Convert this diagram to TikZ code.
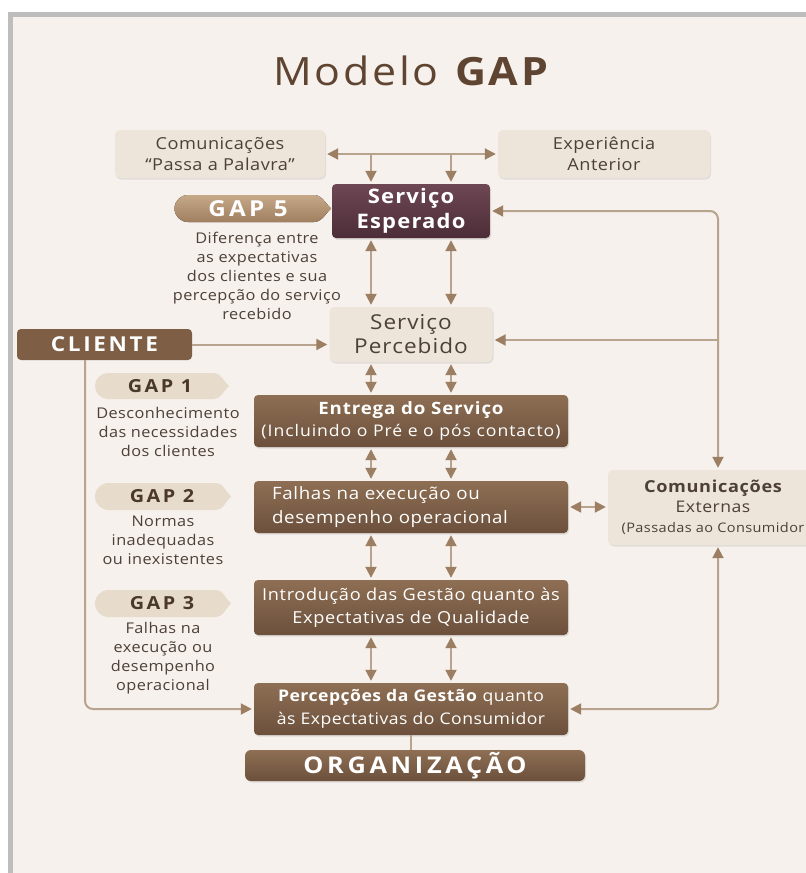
\documentclass[tikz,border=0pt]{standalone}
\usepackage{fontspec}
\setmainfont{Open Sans}[FakeStretch=1.1, LetterSpace=3]
\usetikzlibrary{arrows.meta,shadows,calc}
\definecolor{bg}{HTML}{F6F1EC}
\definecolor{frame}{HTML}{BDBDBD}
\definecolor{boxlight}{HTML}{EDE4DA}
\definecolor{brownT}{HTML}{8E6F54}
\definecolor{brownB}{HTML}{6C503C}
\definecolor{plumT}{HTML}{6E4754}
\definecolor{plumB}{HTML}{4C2D37}
\definecolor{clibrown}{HTML}{7E5E44}
\definecolor{pillT}{HTML}{C6A989}
\definecolor{pillB}{HTML}{9F7F60}
\definecolor{pilllight}{HTML}{E7DBCB}
\definecolor{linecol}{HTML}{B8A38D}
\definecolor{tipcol}{HTML}{9C7E63}
\definecolor{txt}{HTML}{4D4038}
\definecolor{titlecol}{HTML}{5E4431}
\definecolor{gaptxt}{HTML}{4A3828}
\newcommand{\LS}[1]{\addfontfeature{LetterSpace=#1}}
\begin{document}
\begin{tikzpicture}[x=1pt,y=-1pt,
  lightbox/.style={fill=boxlight, rounded corners=5pt, text=txt, align=center, inner sep=0pt,
    drop shadow={opacity=.18, shadow xshift=1pt, shadow yshift=-1.5pt}},
  brownbox/.style={top color=brownT, bottom color=brownB, rounded corners=4pt, text=white,
    align=center, inner sep=0pt, minimum width=314pt,
    drop shadow={opacity=.2, shadow xshift=1pt, shadow yshift=-1.5pt}},
  conn/.style={draw=linecol, line width=2pt, shorten <=2pt, shorten >=2pt},
  arr/.style={conn, -{Triangle[length=11pt,width=11pt,color=tipcol]}},
  dbl/.style={conn, {Triangle[length=11pt,width=11pt,color=tipcol]}-{Triangle[length=11pt,width=11pt,color=tipcol]}},
  plain/.style={draw=linecol, line width=2pt},
  desc/.style={text=txt, align=center, font=\fontsize{14.8}{19}\selectfont, inner sep=0pt},
  gapl/.style={text=gaptxt, font=\fontsize{18}{20}\selectfont\bfseries\LS{14}, inner sep=0pt},
]
\useasboundingbox (0,0) rectangle (806,873);
\clip (0,0) rectangle (806,873);
\fill[white] (0,0) rectangle (806,873);
\fill[frame] (8,12) rectangle (806,873);
\fill[bg] (13,17) rectangle (806,873);

% title
\node[text=titlecol, font=\fontsize{39}{40}\selectfont\LS{7}, inner sep=0pt] (title) at (412,71) {Modelo \textbf{GAP}};

% top boxes
\node[lightbox, minimum width=210pt, minimum height=48pt, font=\fontsize{16.5}{20.5}\selectfont] (comm) at (220,154) {Comunicações\\“Passa a Palavra”};
\node[lightbox, minimum width=212pt, minimum height=48pt, font=\fontsize{16.5}{20.5}\selectfont] (exp) at (604,154) {Experiência\\Anterior};

% main column
\node[top color=plumT, bottom color=plumB, rounded corners=4pt, text=white, align=center, inner sep=0pt,
  minimum width=158pt, minimum height=54pt, font=\fontsize{20}{25}\selectfont\bfseries\LS{6},
  drop shadow={opacity=.25, shadow xshift=1pt, shadow yshift=-1.5pt}] (esp) at (411,211) {Serviço\\Esperado};
\node[lightbox, minimum width=163pt, minimum height=55pt, font=\fontsize{20.5}{24}\selectfont\LS{5}] (perc) at (411,334.5) {Serviço\\Percebido};
\node[brownbox, minimum height=52pt, font=\fontsize{16}{22}\selectfont\LS{6}] (ent) at (411,421) {{\fontsize{17}{22}\selectfont\bfseries\LS{5}Entrega do Serviço}\\(Incluindo o Pré e o pós contacto)};
\node[brownbox, minimum height=52pt, font=\fontsize{17}{24}\selectfont\LS{4}, align=left, text width=278pt, inner xsep=18pt] (fal) at (411,507) {Falhas na execução ou\\desempenho operacional};
\node[brownbox, minimum height=55pt, font=\fontsize{16.5}{23}\selectfont\LS{4}] (intro) at (411,607.5) {Introdução das Gestão quanto às\\Expectativas de Qualidade};
\node[brownbox, minimum height=52pt, font=\fontsize{16}{23}\selectfont] (pge) at (411,709) {\textbf{Percepções da Gestão} quanto\\às Expectativas do Consumidor};
\node[brownbox, minimum width=340pt, minimum height=31pt, rounded corners=6pt, font=\fontsize{23}{24}\selectfont\bfseries\LS{16}] (org) at (415,765.5) {ORGANIZAÇÃO};

% cliente
\node[fill=clibrown, rounded corners=4pt, text=white, inner sep=0pt, minimum width=175pt, minimum height=31pt,
  font=\fontsize{20.5}{22}\selectfont\bfseries\LS{13}] (cli) at (104.5,344.5) {CLIENTE};

% externas
\node[lightbox, minimum width=210pt, minimum height=75pt, font=\fontsize{16}{19.5}\selectfont] (ext) at (713,507.5) {{\fontsize{16.5}{19.5}\selectfont\bfseries\LS{4}Comunicações}\\Externas\\[1pt]{\fontsize{13.2}{19.5}\selectfont (Passadas ao Consumidor}};

% GAP 5 pill
\fill[top color=pillT, bottom color=pillB] (188,195) -- (314,195) .. controls (322,195) and (326,204) .. (331,208.5) .. controls (326,213) and (322,222) .. (314,222) -- (188,222) arc[start angle=270, end angle=90, radius=13.5pt] -- cycle;
\node[text=white, font=\fontsize{22}{24}\selectfont\bfseries\LS{15}, inner sep=0pt] (g5) at (248,208.5) {GAP 5};
\node[desc] (g5d) at (257,276) {Diferença entre\\as expectativas\\dos clientes e sua\\percepção do serviço\\recebido};

% GAP 1 pill
\fill[pilllight] (108,373) -- (214,373) .. controls (221,373) and (224,382) .. (229,386) .. controls (224,390) and (221,399) .. (214,399) -- (108,399) arc[start angle=270, end angle=90, radius=13pt] -- cycle;
\node[gapl] (g1) at (160,386) {GAP 1};
\coordinate (g1tip) at (229,386);
\coordinate (g1end) at (239,386);
\draw[draw=none, -{Triangle[length=10pt,width=12pt,color=pilllight!55!tipcol]}] (g1tip) -- (g1end);
\node[desc] (g1d) at (168,431.5) {Desconhecimento\\das necessidades\\dos clientes};

% GAP 2 pill
\fill[pilllight] (108.5,483) -- (216,483) .. controls (223,483) and (226,492) .. (231,496.5) .. controls (226,501) and (223,510) .. (216,510) -- (108.5,510) arc[start angle=270, end angle=90, radius=13.5pt] -- cycle;
\node[gapl] (g2) at (162,496.5) {GAP 2};
\coordinate (g2tip) at (232,496.5);
\draw[draw=none, -{Triangle[length=19pt,width=15pt,color=pilllight!55!tipcol]}] (g2tip) -- (g2tip -| fal.west);
\node[desc] (g2d) at (163,540) {Normas\\inadequadas\\ou inexistentes};

% GAP 3 pill
\fill[pilllight] (108.5,590) -- (216,590) .. controls (223,590) and (226,599) .. (231,603.5) .. controls (226,608) and (223,617) .. (216,617) -- (108.5,617) arc[start angle=270, end angle=90, radius=13.5pt] -- cycle;
\node[gapl] (g3) at (162,603.5) {GAP 3};
\coordinate (g3tip) at (232,603.5);
\draw[draw=none, -{Triangle[length=19pt,width=15pt,color=pilllight!55!tipcol]}] (g3tip) -- (g3tip -| intro.west);
\node[desc] (g3d) at (163,658.5) {Falhas na\\execução ou\\desempenho\\operacional};

% connectors top
\draw[dbl] (comm.east) -- (exp.west);
\draw[arr, shorten <=0pt] ([xshift=-40pt]esp.north |- comm.east) -- ([xshift=-40pt]esp.north);
\draw[arr, shorten <=0pt] ([xshift=40pt]esp.north |- comm.east) -- ([xshift=40pt]esp.north);
% vertical double arrows
\foreach \a/\b in {esp/perc, perc/ent, ent/fal, fal/intro, intro/pge}{
  \draw[dbl] ([xshift=-40pt]\a.south) -- ([xshift=-40pt]\b.north);
  \draw[dbl] ([xshift=40pt]\a.south) -- ([xshift=40pt]\b.north);
}
% cliente
\draw[arr, shorten <=0pt] (cli.east) -- (cli.east -| perc.west);
\coordinate (lx) at (85,0);
\draw[arr, shorten <=0pt, rounded corners=8pt] (lx |- cli.south) -- (lx |- pge.west) -- (pge.west);
% right side
\coordinate (rx) at (718,0);
\coordinate (rmid) at (718,340);
\draw[dbl, rounded corners=8pt] (rx |- ext.north) -- (rx |- esp.east) -- (esp.east);
\draw[arr, shorten <=0pt] (rmid) -- (rmid -| perc.east);
\draw[dbl, rounded corners=8pt] (rx |- ext.south) -- (rx |- pge.east) -- (pge.east);
\draw[dbl] (fal.east) -- (fal.east -| ext.west);
% organizacao
\draw[plain] (pge.south) -- (pge.south |- org.north);
\end{tikzpicture}
\end{document}
